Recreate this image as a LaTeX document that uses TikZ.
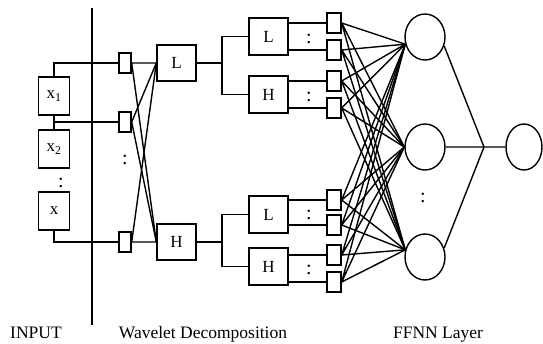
\documentclass[tikz,border=0pt]{standalone}
\usepackage{fontspec}
\setmainfont{Liberation Serif}
\usetikzlibrary{positioning,shapes.geometric}

\begin{document}
\begin{tikzpicture}[x=1pt,y=-1pt,on grid,line width=1.4pt,
	every node/.style={inner sep=0pt},
	blk/.style={draw,minimum width=39pt,minimum height=36pt,font=\fontsize{17}{18}\selectfont},
	inbox/.style={draw,minimum width=31pt,minimum height=38pt,font=\fontsize{17}{18}\selectfont},
	tap/.style={draw,minimum width=12pt,minimum height=20pt},
	neuron/.style={draw,ellipse,minimum width=40pt,minimum height=46pt},
	dots/.style={font=\fontsize{20}{20}\selectfont},
	lbl/.style={font=\fontsize{17.5}{20}\selectfont,anchor=base}]
	\useasboundingbox (0,0) rectangle (543,343);
	% input series
	\node[inbox] (x1) at (54,96) {x\textsubscript{1}};
	\node[inbox] (x2) [below = 53pt of x1] {x\textsubscript{2}};
	\node[inbox] (x3) [below = 62pt of x2] {x};
	\node[dots] (d0) at (61,183) {:};
	% divider
	\coordinate (top) at (92,8);
	\coordinate (bot) at (92,325);
	\draw (top) -- (bot);
	% wavelet decomposition
	\node[tap] (in1) at (125,63) {};
	\node[tap] (in2) [below = 59pt of in1] {};
	\node[tap] (in3) [below = 120pt of in2] {};
	\node[dots] (d1) at (125,160) {:};
	\node[blk] (L) [right = 51.5pt of in1] {L};
	\node[blk] (H) [right = 51.5pt of in3] {H};
	\coordinate[right = 45.5pt of L] (jL);
	\coordinate[right = 45.5pt of H] (jH);
	\node[blk,minimum height=37pt] (LL) [above right = 26.5pt and 92pt of L] {L};
	\node[blk,minimum height=37pt] (LH) [below right = 31.5pt and 92pt of L] {H};
	\node[blk,minimum height=37pt] (HL) [above right = 27.5pt and 92pt of H] {L};
	\node[blk,minimum height=37pt] (HH) [below right = 24.5pt and 92pt of H] {H};
	\foreach \y [count=\i] in {23,50,81,108,200,225,255,282}
		\node[tap,minimum width=14pt] (o\i) at (334,\y) {};
	\foreach \y [count=\i] in {39,97,215,270}
		\node[dots] (c\i) at (309,\y) {:};
	% FFNN layer
	\node[neuron] (h1) at (425,37) {};
	\node[neuron] (h2) [below = 110pt of h1] {};
	\node[neuron] (h3) [below = 110pt of h2] {};
	\node[dots] (d2) at (423,198) {:};
	\coordinate[right = 59pt of h2] (jo);
	\node[neuron,minimum width=36pt] (out) [right = 99pt of h2] {};
	% connections
	\draw (x1.north) |- (in1);
	\draw (x1.south) -- (x2.north);
	\draw (x1.south |- in2) -- (in2);
	\draw (x3.south) |- (in3);
	\foreach \t in {in1,in2,in3}
		\draw (\t.east) -- (L.west) (\t.east) -- (H.west);
	\draw (L) -- (jL);
	\draw (LL.west) -| (jL) |- (LH.west);
	\draw (H) -- (jH);
	\draw (HL.west) -| (jH) |- (HH.west);
	\foreach \i/\b in {1/LL,2/LL,3/LH,4/LH,5/HL,6/HL,7/HH,8/HH}
		\draw (o\i -| \b.east) -- (o\i);
	\foreach \i in {1,...,8}
		\draw (o\i.east) -- (h1.200) (o\i.east) -- (h2.west) (o\i.east) -- (h3.160);
	\draw (h1.-25) -- (jo) (h2) -- (jo) (h3.25) -- (jo) (jo) -- (out);
	% captions
	\node[lbl] (t1) at (36,338) {INPUT};
	\node[lbl] (t2) at (203,338) {Wavelet Decomposition};
	\node[lbl] (t3) at (438,338) {FFNN Layer};
\end{tikzpicture}
\end{document}
